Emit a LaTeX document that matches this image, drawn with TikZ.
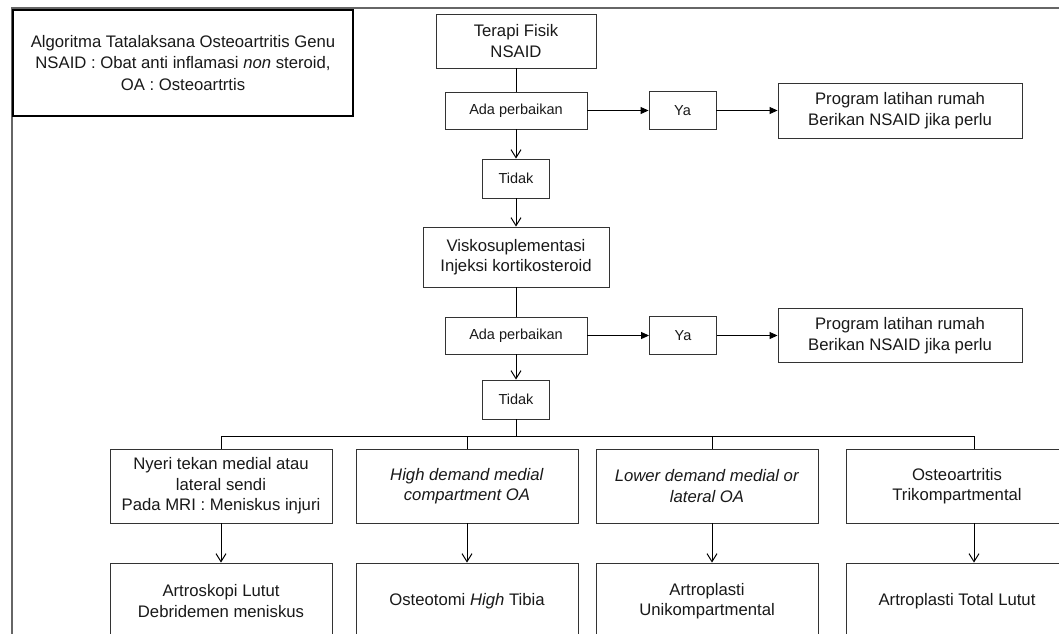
\documentclass[tikz,border=0pt]{standalone}
\usepackage{fontspec}
\setmainfont{Liberation Sans}
\usetikzlibrary{arrows.meta}
\begin{document}
\begin{tikzpicture}[x=1pt,y=-1pt,
  box/.style={draw=black!80, line width=0.9pt, rectangle, inner sep=0pt, align=center,
    font=\fontsize{16.7}{20.5}\selectfont, text=black!90},
  small/.style={box, font=\fontsize{14.5}{17}\selectfont},
  plain/.style={draw=black, line width=1pt},
  varrow/.style={plain, -{Straight Barb[length=8pt,width=10pt,line width=1pt]}},
  harrow/.style={plain, -{Triangle[length=8pt,width=7pt]}},
  frameline/.style={draw=black!60, line width=1.2pt}
]
\path[use as bounding box] (0,0) rectangle (1059,633);
\clip (0,0) rectangle (1059,633);
\fill[white] (0,0) rectangle (1059,633);

% outer frame
\draw[frameline] (12,700) -- (12,8) -- (1100,8);

% title
\node[box, draw=black, line width=2.2pt, minimum width=340pt, minimum height=106pt,
  font=\fontsize{16.7}{21.5}\selectfont] (title) at (183,63)
  {Algoritma Tatalaksana Osteoartritis Genu\\NSAID : Obat anti inflamasi \textit{non} steroid,\\OA : Osteoartrtis};

% main column
\node[box, minimum width=160pt, minimum height=54pt] (terapi) at (516,41) {Terapi Fisik\\NSAID};
\node[small, minimum width=142pt, minimum height=37pt] (ada1) at (516,110.5) {Ada perbaikan};
\node[small, minimum width=67pt, minimum height=38pt] (ya1) at (682.5,110.5) {Ya};
\node[box, minimum width=244pt, minimum height=55pt] (prog1) at (900,110.5) {Program latihan rumah\\Berikan NSAID jika perlu};
\node[small, minimum width=67pt, minimum height=39pt] (tidak1) at (516,178.5) {Tidak};
\node[box, minimum width=186pt, minimum height=60pt] (visko) at (516,257) {Viskosuplementasi\\Injeksi kortikosteroid};
\node[small, minimum width=142pt, minimum height=37pt] (ada2) at (516,335.5) {Ada perbaikan};
\node[small, minimum width=67pt, minimum height=38pt] (ya2) at (683,335.5) {Ya};
\node[box, minimum width=244pt, minimum height=54pt] (prog2) at (900,335.5) {Program latihan rumah\\Berikan NSAID jika perlu};
\node[small, minimum width=67pt, minimum height=39pt] (tidak2) at (516,399.5) {Tidak};

% row 1
\node[box, minimum width=222pt, minimum height=74pt] (nyeri) at (221,486)
  {Nyeri tekan medial atau\\lateral sendi\\Pada MRI : Meniskus injuri};
\node[box, minimum width=222pt, minimum height=74pt] (high) at (467,486)
  {\textit{High demand medial}\\\textit{compartment OA}};
\node[box, minimum width=222pt, minimum height=74pt] (lower) at (707,486)
  {\textit{Lower demand medial or}\\\textit{lateral OA}};
\node[box, minimum width=222pt, minimum height=74pt] (osteo) at (957,486)
  {Osteoartritis\\Trikompartmental};

% row 2
\node[box, minimum width=222pt, minimum height=76pt] (artro) at (221,601)
  {Artroskopi Lutut\\Debridemen meniskus};
\node[box, minimum width=222pt, minimum height=76pt] (hto) at (467,601)
  {Osteotomi \textit{High} Tibia};
\node[box, minimum width=222pt, minimum height=76pt] (uni) at (707,601)
  {Artroplasti\\Unikompartmental};
\node[box, minimum width=222pt, minimum height=76pt] (tka) at (957,601)
  {Artroplasti Total Lutut};

% connectors
\draw[plain] (terapi) -- (ada1);
\draw[harrow] (ada1) -- (ya1);
\draw[harrow] (ya1) -- (prog1);
\draw[varrow] (ada1) -- (tidak1);
\draw[varrow] (tidak1) -- (visko);
\draw[plain] (visko) -- (ada2);
\draw[harrow] (ada2) -- (ya2);
\draw[harrow] (ya2) -- (prog2);
\draw[varrow] (ada2) -- (tidak2);

\coordinate (br) at (516,436);
\draw[plain] (tidak2.south) -- (br);
\draw[plain] (nyeri.north) |- (br) -| ([xshift=17pt]osteo.north);
\draw[plain] (high.north) -- (high.north |- br);
\draw[plain] ([xshift=5pt]lower.north) -- ([xshift=5pt]lower.north |- br);

\draw[varrow] (nyeri) -- (artro);
\draw[varrow] (high) -- (hto);
\draw[varrow] ([xshift=5pt]lower.south) -- ([xshift=5pt]uni.north);
\draw[varrow] ([xshift=17pt]osteo.south) -- ([xshift=17pt]tka.north);
\end{tikzpicture}
\end{document}
